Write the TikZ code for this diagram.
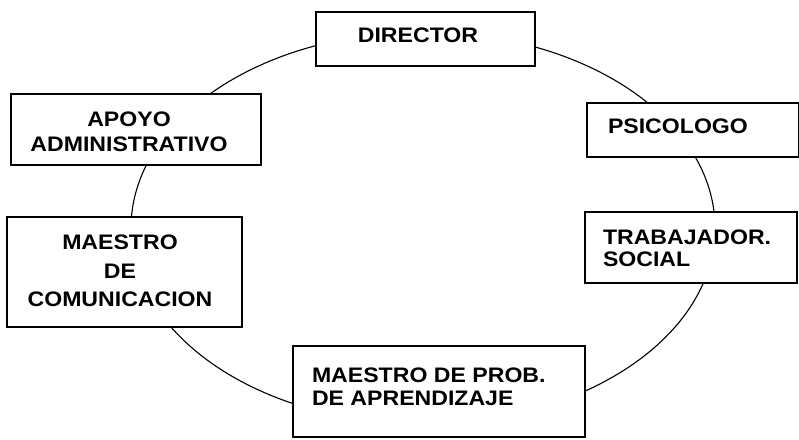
\documentclass[tikz,border=0pt]{standalone}
\usepackage{fontspec}
\setmainfont{Liberation Sans}[FakeStretch=1.1]
\usetikzlibrary{shapes.geometric}
\begin{document}
\begin{tikzpicture}[x=1pt,y=-1pt,
  box/.style={draw, fill=white, line width=1.1pt, inner sep=0pt, outer sep=0pt, anchor=north west},
  lbl/.style={inner sep=0pt, outer sep=0pt, align=center},
  lblL/.style={inner sep=0pt, outer sep=0pt, align=left},
  txt/.style={font=\bfseries\fontsize{21}{#1}\selectfont}]
\useasboundingbox[fill=white] (0,0) rectangle (799,439);
% ring behind the boxes
\node[ellipse, draw, line width=1.1pt, inner sep=0pt, minimum width=584pt, minimum height=392pt] (ring) at (423,228) {};
% boxes
\node[box, minimum width=219pt, minimum height=54pt] (dir) at (316,12) {};
\node[box, minimum width=250pt, minimum height=71pt] (apoyo) at (11,94) {};
\node[box, minimum width=212pt, minimum height=54pt] (psico) at (587,103) {};
\node[box, minimum width=212pt, minimum height=71pt] (trab) at (585,212) {};
\node[box, minimum width=235pt, minimum height=110pt] (com) at (7,217) {};
\node[box, minimum width=292pt, minimum height=91pt] (prob) at (293,346) {};
% labels
\node[lbl, txt=25, anchor=base] (tdir) at (418,42) {DIRECTOR};
\node[lbl, txt=25, anchor=north] (tapoyo) at (129,112) {APOYO\\ADMINISTRATIVO};
\node[lblL, txt=25, anchor=base west] (tpsico) at (608,133) {PSICOLOGO};
\node[lblL, txt=22, anchor=north west] (ttrab) at (603,230) {TRABAJADOR.\\SOCIAL};
\node[lbl, txt=28.5, anchor=north] (tcom) at (120,235) {MAESTRO\\DE\\COMUNICACION};
\node[lblL, txt=23, anchor=north west] (tprob) at (312,368) {MAESTRO DE PROB.\\DE APRENDIZAJE};
\end{tikzpicture}
\end{document}
